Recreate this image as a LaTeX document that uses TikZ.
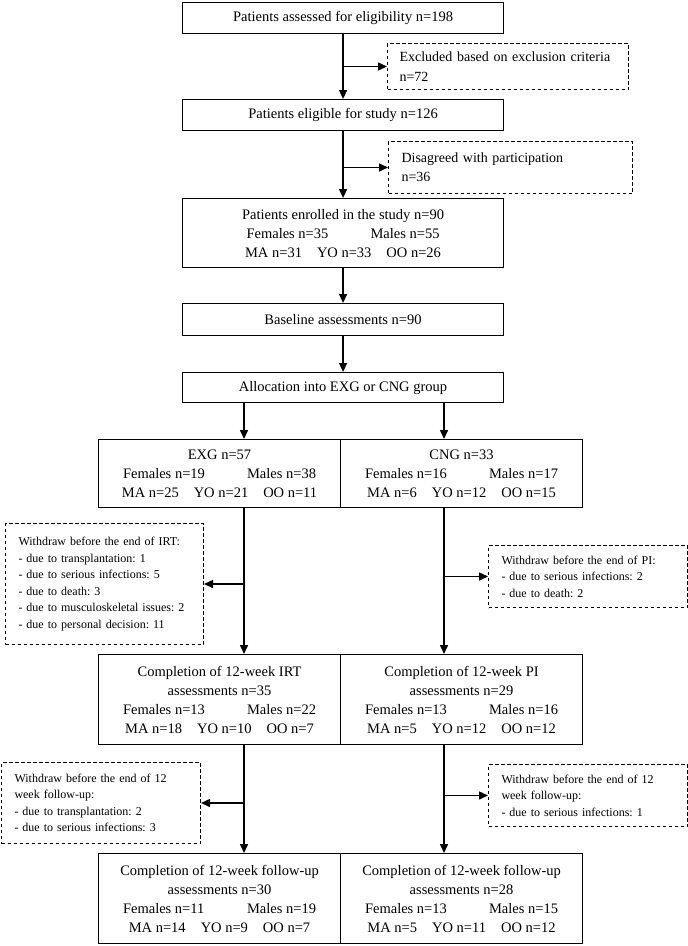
\documentclass[tikz,border=0pt]{standalone}
\usepackage{fontspec}
\setmainfont{Liberation Serif}
\usetikzlibrary{arrows.meta}

% rows inside the group boxes
\newcommand{\sexrow}[2]{\makebox[193pt]{#1\hfill #2}}
\newcommand{\agerow}[3]{#1\hspace{15pt}#2\hspace{15pt}#3}

\begin{document}
\frenchspacing
\begin{tikzpicture}[x=1pt,y=-1pt,
    box/.style={draw, line width=1.1pt, anchor=north west, inner sep=0pt, align=center,
      font=\fontsize{14.5}{19}\selectfont},
    dbox/.style={draw, dashed, dash pattern=on 3.5pt off 2.5pt, line width=1pt, anchor=north west,
      inner xsep=13pt, inner ysep=0pt, align=left},
    small/.style={font=\fontsize{12}{16.5}\selectfont},
    arr/.style={line width=1.5pt, -{Triangle[length=9pt,width=8pt]}}]
    \useasboundingbox (0,0) rectangle (688,946);

    % Main column
    \node[box, minimum width=321pt, minimum height=31pt] (assess) at (182,2) {Patients assessed for eligibility n=198};
    \node[box, minimum width=321pt, minimum height=31pt] (elig) at (182,99) {Patients eligible for study n=126};
    \node[box, minimum width=321pt, minimum height=69pt] (enrol) at (182,198)
      {Patients enrolled in the study n=90\\ \sexrow{Females n=35}{Males n=55}\\ \agerow{MA n=31}{YO n=33}{OO n=26}};
    \node[box, minimum width=321pt, minimum height=32pt] (base) at (182,303) {Baseline assessments n=90};
    \node[box, minimum width=321pt, minimum height=30pt] (alloc) at (182,372) {Allocation into EXG or CNG group};

    % Exclusions
    \node[dbox, inner xsep=12pt, font=\fontsize{14}{20}\selectfont, minimum width=241pt, minimum height=46pt, text width=217pt] (excl) at (387,43)
      {Excluded based on exclusion criteria\\ n=72};
    \node[dbox, inner xsep=13pt, font=\fontsize{14}{19}\selectfont, minimum width=244pt, minimum height=52pt, text width=218pt] (disag) at (388,141)
      {Disagreed with participation\\ n=36};

    % Groups
    \node[box, minimum width=242pt, minimum height=68pt] (exg) at (98,439)
      {EXG n=57\\ \sexrow{Females n=19}{Males n=38}\\ \agerow{MA n=25}{YO n=21}{OO n=11}};
    \node[box, minimum width=242pt, minimum height=68pt] (cng) at (340,439)
      {CNG n=33\\ \sexrow{Females n=16}{Males n=17}\\ \agerow{MA n=6}{YO n=12}{OO n=15}};

    \node[box, minimum width=242pt, minimum height=90pt] (irt) at (98,654)
      {Completion of 12-week IRT\\ assessments n=35\\ \sexrow{Females n=13}{Males n=22}\\ \agerow{MA n=18}{YO n=10}{OO n=7}};
    \node[box, minimum width=242pt, minimum height=90pt] (pi) at (340,654)
      {Completion of 12-week PI\\ assessments n=29\\ \sexrow{Females n=13}{Males n=16}\\ \agerow{MA n=5}{YO n=12}{OO n=12}};

    \node[box, minimum width=242pt, minimum height=90pt] (fuexg) at (98,853)
      {Completion of 12-week follow-up\\ assessments n=30\\ \sexrow{Females n=11}{Males n=19}\\ \agerow{MA n=14}{YO n=9}{OO n=7}};
    \node[box, minimum width=242pt, minimum height=90pt] (fucng) at (340,853)
      {Completion of 12-week follow-up\\ assessments n=28\\ \sexrow{Females n=13}{Males n=15}\\ \agerow{MA n=5}{YO n=11}{OO n=12}};

    % Withdrawals
    \node[dbox, small, minimum width=198pt, minimum height=121pt, text width=172pt] (wirt) at (5,523)
      {Withdraw before the end of IRT:\\ - due to transplantation: 1\\ - due to serious infections: 5\\
       - due to death: 3\\ - due to musculoskeletal issues: 2\\ - due to personal decision: 11};
    \node[dbox, small, minimum width=199pt, minimum height=62pt, text width=173pt] (wpi) at (488,545)
      {Withdraw before the end of PI:\\ - due to serious infections: 2\\ - due to death: 2};
    \node[dbox, small, minimum width=199pt, minimum height=81pt, text width=173pt] (wfuexg) at (1,762)
      {Withdraw before the end of 12\\ week follow-up:\\ - due to transplantation: 2\\ - due to serious infections: 3};
    \node[dbox, small, minimum width=199pt, minimum height=62pt, text width=173pt] (wfucng) at (488,764)
      {Withdraw before the end of 12\\ week follow-up:\\ - due to serious infections: 1};

    % Lanes of the two groups
    \coordinate (lx) at (244,0);
    \coordinate (rx) at (444,0);

    % Arrows
    \draw[arr] (assess.south) -- (elig.north);
    \draw[arr] (assess.south |- excl.west) -- (excl.west);
    \draw[arr] (elig.south) -- (enrol.north);
    \draw[arr] (elig.south |- disag.west) -- (disag.west);
    \draw[arr] (enrol.south) -- (base.north);
    \draw[arr] (base.south) -- (alloc.north);
    \draw[arr] (alloc.south -| lx) -- (exg.north -| lx);
    \draw[arr] (alloc.south -| rx) -- (cng.north -| rx);
    \draw[arr] (exg.south -| lx) -- (irt.north -| lx);
    \draw[arr] (wirt.east -| lx) -- (wirt.east);
    \draw[arr] (cng.south -| rx) -- (pi.north -| rx);
    \draw[arr] (wpi.west -| rx) -- (wpi.west);
    \draw[arr] (irt.south -| lx) -- (fuexg.north -| lx);
    \draw[arr] (wfuexg.east -| lx) -- (wfuexg.east);
    \draw[arr] (pi.south -| rx) -- (fucng.north -| rx);
    \draw[arr] (wfucng.west -| rx) -- (wfucng.west);
\end{tikzpicture}
\end{document}
